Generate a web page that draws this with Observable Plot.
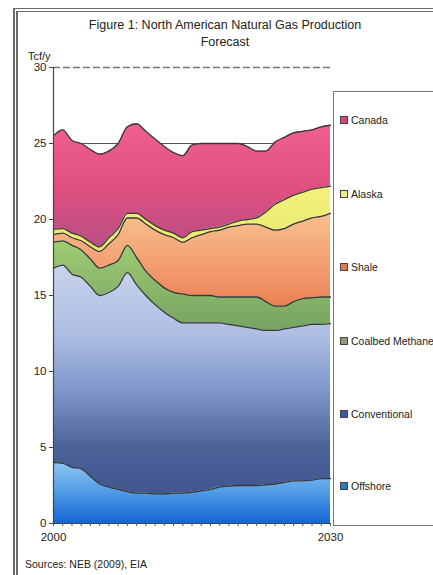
<!DOCTYPE html>
<html>
<head>
<meta charset="utf-8">
<script src="https://cdn.jsdelivr.net/npm/d3@7"></script>
<script src="https://cdn.jsdelivr.net/npm/@observablehq/plot@0.6"></script>
<style>
  body { margin: 0; background: #fff; font-family: "Liberation Sans", Arial, sans-serif; }
  #fig { position: relative; width: 433px; height: 575px; overflow: hidden; background: #fff; color: #222; }
  #frame { position: absolute; left: 13px; top: 8px; width: 460px; height: 600px;
           border-left: 5px double #6a6a6a; border-top: 4px double #6a6a6a; }
  #title { position: absolute; left: 0; width: 450px; top: 17px; text-align: center;
           font-size: 12.5px; line-height: 17px; }
  #unit { position: absolute; left: 28px; top: 50px; font-size: 11px; }
  #chart { position: absolute; left: 0; top: 50px; }
  #legend { position: absolute; left: 333px; top: 91px; width: 140px; height: 433px;
            border: 1px solid #777; border-right: none; background: #fff; }
  .item { position: absolute; left: 6px; font-size: 10.5px; line-height: 12px; white-space: nowrap; }
  .sw { display: inline-block; width: 6px; height: 6px; border: 1px solid #444; margin-right: 3px; vertical-align: 0px; }
  #source { position: absolute; left: 25px; top: 558px; font-size: 10.5px; }
</style>
</head>
<body>
<div id="fig">
  <div id="frame"></div>
  <div id="title">Figure 1: North American Natural Gas Production<br>Forecast</div>
  <div id="unit">Tcf/y</div>
  <div id="chart"></div>
  <div id="legend"></div>
  <div id="source">Sources: NEB (2009), EIA</div>
</div>
<script>
// Production by source, Tcf per year, 2000–2030
const years = [2000, 2001, 2002, 2003, 2004, 2005, 2006, 2007, 2008, 2009, 2010,
               2011, 2012, 2013, 2014, 2015, 2016, 2017, 2018, 2019, 2020,
               2021, 2022, 2023, 2024, 2025, 2026, 2027, 2028, 2029, 2030];

const offshore     = [4.0, 3.95, 3.7, 3.6, 3.1, 2.6, 2.4, 2.25, 2.1, 2.0, 2.0,
                      1.95, 1.95, 2.0, 2.0, 2.05, 2.15, 2.25, 2.4, 2.45, 2.5,
                      2.5, 2.5, 2.55, 2.6, 2.7, 2.8, 2.8, 2.85, 2.95, 2.95];
const conventional = [12.8, 13.05, 12.7, 12.6, 12.5, 12.4, 12.8, 13.35, 14.4, 13.7, 13.0,
                      12.45, 11.95, 11.5, 11.2, 11.15, 11.05, 10.95, 10.8, 10.65, 10.5,
                      10.4, 10.3, 10.15, 10.1, 10.1, 10.1, 10.2, 10.25, 10.15, 10.2];
const coalbed      = [1.7, 1.6, 1.9, 1.8, 1.8, 1.8, 1.8, 1.7, 1.8, 1.8, 1.6,
                      1.6, 1.6, 1.7, 1.9, 1.8, 1.8, 1.8, 1.7, 1.8, 1.9,
                      2.0, 2.1, 1.9, 1.6, 1.5, 1.7, 1.8, 1.75, 1.8, 1.75];
const shale        = [0.5, 0.5, 0.5, 0.6, 0.8, 1.1, 1.4, 1.7, 1.8, 2.6, 3.1,
                      3.3, 3.5, 3.6, 3.4, 3.8, 4.0, 4.2, 4.4, 4.6, 4.7,
                      4.8, 4.8, 4.9, 5.0, 5.1, 5.1, 5.1, 5.25, 5.3, 5.5];
const alaska       = [0.35, 0.3, 0.3, 0.3, 0.3, 0.3, 0.4, 0.4, 0.3, 0.3, 0.3,
                      0.3, 0.3, 0.3, 0.3, 0.4, 0.3, 0.2, 0.2, 0.2, 0.3,
                      0.3, 0.4, 1.0, 1.7, 1.9, 1.9, 1.9, 1.9, 1.9, 1.8];
const canada       = [6.15, 6.5, 6.1, 6.1, 6.1, 6.1, 5.7, 5.6, 5.7, 5.9, 5.8,
                      5.7, 5.5, 5.3, 5.4, 5.7, 5.7, 5.6, 5.5, 5.3, 5.1,
                      4.8, 4.4, 4.0, 4.1, 4.1, 4.1, 4.0, 3.9, 4.0, 4.0];

// Stacked bottom to top
const seriesNames = ["Offshore", "Conventional", "Coalbed Methane", "Shale", "Alaska", "Canada"];
const seriesValues = [offshore, conventional, coalbed, shale, alaska, canada];
const yTicks = [0, 5, 10, 15, 20, 25, 30];
const xTickLabels = [2000, 2030];

const rows = seriesNames.flatMap((name, i) =>
  years.map((year, j) => ({series: name, year, value: seriesValues[i][j]})));

// Vertical gradient fills for each band
const gradientStops = {
  "Offshore":        [[0, "#8ec6f2"], [0.5, "#4f9ae6"], [1, "#1466d2"]],
  "Conventional":    [[0, "#c9d3ec"], [0.3, "#aebfe3"], [0.55, "#7f96cb"], [0.8, "#4b6299"], [1, "#43568f"]],
  "Coalbed Methane": [[0, "#9fcc72"], [1, "#76a463"]],
  "Shale":           [[0, "#f8c08e"], [0.5, "#f4a274"], [1, "#ea8055"]],
  "Alaska":          [[0, "#f4f27e"], [1, "#e8e86c"]],
  "Canada":          [[0, "#f0608e"], [0.55, "#de4f80"], [1, "#b94e84"]]
};
const gradId = name => "grad-" + name.replace(/\s+/g, "-").toLowerCase();

function gradientDefs() {
  const ns = "http://www.w3.org/2000/svg";
  const defs = document.createElementNS(ns, "defs");
  for (const name of seriesNames) {
    const g = document.createElementNS(ns, "linearGradient");
    g.setAttribute("id", gradId(name));
    g.setAttribute("x1", "0"); g.setAttribute("y1", "0");
    g.setAttribute("x2", "0"); g.setAttribute("y2", "1");
    for (const [offset, color] of gradientStops[name]) {
      const s = document.createElementNS(ns, "stop");
      s.setAttribute("offset", offset);
      s.setAttribute("stop-color", color);
      g.appendChild(s);
    }
    defs.appendChild(g);
  }
  return defs;
}

const stackOpts = {x: "year", y: "value", z: "series", order: seriesNames};

const chart = Plot.plot({
  width: 433,
  height: 510,
  marginLeft: 53,
  marginRight: 103,
  marginTop: 17,
  marginBottom: 37,
  style: {fontFamily: "'Liberation Sans', Arial, sans-serif", fontSize: "11.5px", color: "#222", background: "transparent"},
  x: {domain: [2000, 2030]},
  y: {domain: [0, 30]},
  color: {domain: seriesNames, range: seriesNames.map(n => `url(#${gradId(n)})`)},
  marks: [
    gradientDefs,
    Plot.ruleY([25], {stroke: "#555", strokeWidth: 1.2}),
    Plot.ruleY([30], {stroke: "#777", strokeWidth: 1.3, strokeDasharray: "7,3"}),
    Plot.areaY(rows, Plot.stackY({...stackOpts, fill: "series", curve: "monotone-x"})),
    Plot.lineY(rows, Plot.stackY2({...stackOpts, stroke: "#383838", strokeWidth: 1.3, curve: "monotone-x"})),
    Plot.ruleX([2000], {stroke: "#444", strokeWidth: 1.2}),
    Plot.ruleY([0], {stroke: "#444", strokeWidth: 1.2}),
    Plot.axisY({ticks: yTicks, tickSize: 4, tickPadding: 3, label: null, stroke: "#444"}),
    Plot.axisX({ticks: years, tickSize: 3, tickFormat: () => "", label: null, stroke: "#555"}),
    Plot.axisX({ticks: xTickLabels, tickSize: 0, tickPadding: 9, tickFormat: d => String(d), label: null})
  ]
});
document.getElementById("chart").appendChild(chart);

// Legend, top to bottom
const legendItems = [
  {name: "Canada", color: "#d8456e", top: 22},
  {name: "Alaska", color: "#eeee86", top: 96},
  {name: "Shale", color: "#e07a5c", top: 169},
  {name: "Coalbed Methane", color: "#8c9c78", top: 243},
  {name: "Conventional", color: "#3a5cae", top: 316},
  {name: "Offshore", color: "#2f78c8", top: 388}
];
const legend = document.getElementById("legend");
for (const it of legendItems) {
  const div = document.createElement("div");
  div.className = "item";
  div.style.top = it.top + "px";
  const sw = document.createElement("span");
  sw.className = "sw";
  sw.style.background = it.color;
  div.appendChild(sw);
  div.appendChild(document.createTextNode(it.name));
  legend.appendChild(div);
}
</script>
</body>
</html>
